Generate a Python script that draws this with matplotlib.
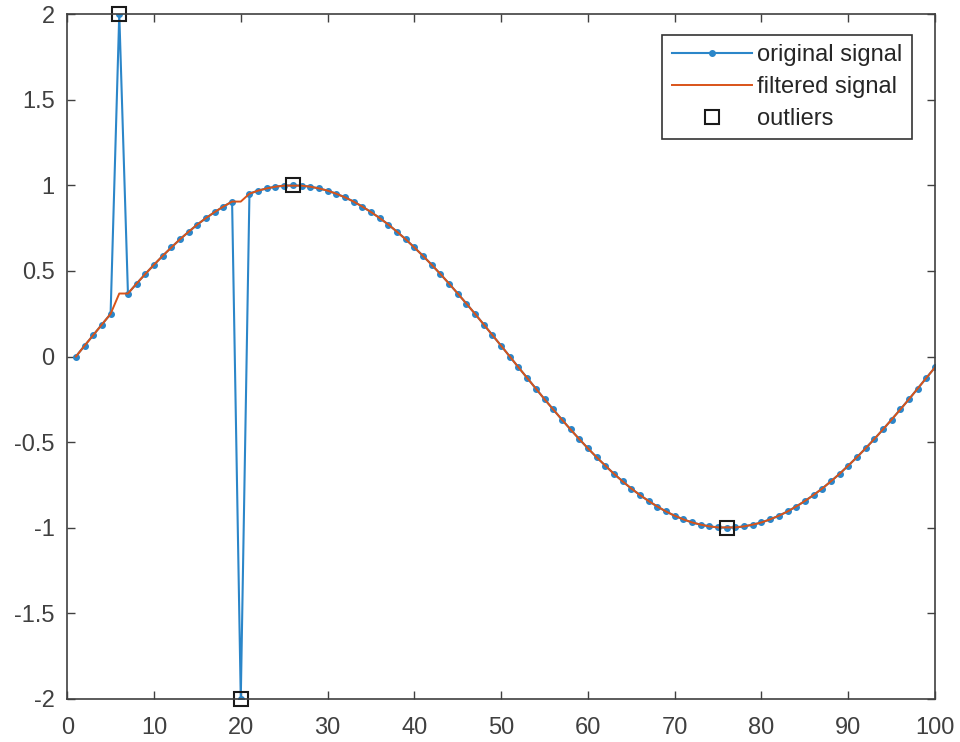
import numpy as np
import matplotlib.pyplot as plt

plt.rcParams['font.family'] = ['Liberation Sans', 'DejaVu Sans']

# sample index and the signal values
x = np.arange(1, 101)
original = [0.000, 0.063, 0.125, 0.187, 0.249, 2.000, 0.368, 0.426, 0.482, 0.536,
            0.588, 0.637, 0.685, 0.729, 0.771, 0.809, 0.844, 0.876, 0.905, -2.000,
            0.951, 0.969, 0.982, 0.992, 0.998, 1.000, 0.998, 0.992, 0.982, 0.969,
            0.951, 0.930, 0.905, 0.876, 0.844, 0.809, 0.771, 0.729, 0.685, 0.637,
            0.588, 0.536, 0.482, 0.426, 0.368, 0.309, 0.249, 0.187, 0.125, 0.063,
            0.000, -0.063, -0.125, -0.187, -0.249, -0.309, -0.368, -0.426, -0.482, -0.536,
            -0.588, -0.637, -0.685, -0.729, -0.771, -0.809, -0.844, -0.876, -0.905, -0.930,
            -0.951, -0.969, -0.982, -0.992, -0.998, -1.000, -0.998, -0.992, -0.982, -0.969,
            -0.951, -0.930, -0.905, -0.876, -0.844, -0.809, -0.771, -0.729, -0.685, -0.637,
            -0.588, -0.536, -0.482, -0.426, -0.368, -0.309, -0.249, -0.187, -0.125, -0.063]
filtered = [0.000, 0.063, 0.125, 0.187, 0.249, 0.368, 0.368, 0.426, 0.482, 0.536,
            0.588, 0.637, 0.685, 0.729, 0.771, 0.809, 0.844, 0.876, 0.905, 0.905,
            0.951, 0.969, 0.982, 0.992, 0.998, 0.998, 0.998, 0.992, 0.982, 0.969,
            0.951, 0.930, 0.905, 0.876, 0.844, 0.809, 0.771, 0.729, 0.685, 0.637,
            0.588, 0.536, 0.482, 0.426, 0.368, 0.309, 0.249, 0.187, 0.125, 0.063,
            0.000, -0.063, -0.125, -0.187, -0.249, -0.309, -0.368, -0.426, -0.482, -0.536,
            -0.588, -0.637, -0.685, -0.729, -0.771, -0.809, -0.844, -0.876, -0.905, -0.930,
            -0.951, -0.969, -0.982, -0.992, -0.998, -0.998, -0.998, -0.992, -0.982, -0.969,
            -0.951, -0.930, -0.905, -0.876, -0.844, -0.809, -0.771, -0.729, -0.685, -0.637,
            -0.588, -0.536, -0.482, -0.426, -0.368, -0.309, -0.249, -0.187, -0.125, -0.063]
outlier_x = [6, 20, 26, 76]
outlier_y = [2, -2, 1, -1]

fig = plt.figure(figsize=(9.6, 7.42), dpi=100)
ax = fig.add_axes([0.070, 0.058, 0.904, 0.923])

ax.plot(x, original, '.-', color='#2b86c9', lw=1.5, ms=8, label='original signal')
ax.plot(x, filtered, '-', color='#D95319', lw=1.4, label='filtered signal')
ax.plot(outlier_x, outlier_y, 's', mfc='none', mec='#1a1a1a', ms=10, mew=1.5,
        clip_on=False, label='outliers')

ax.set_xlim(0, 100)
ax.set_ylim(-2, 2)
ax.set_xticks(np.arange(0, 101, 10))
ax.set_yticks(np.arange(-2, 2.01, 0.5))
ax.set_yticklabels(['-2', '-1.5', '-1', '-0.5', '0', '0.5', '1', '1.5', '2'])

edge = '#404040'
for s in ax.spines.values():
    s.set_color(edge)
    s.set_linewidth(1.2)
ax.tick_params(direction='in', length=6, width=1.0, color=edge, labelcolor='#404040',
               labelsize=17, top=True, right=True)
ax.tick_params(axis='x', pad=13)
ax.tick_params(axis='y', pad=9)

leg = ax.legend(loc='upper right', bbox_to_anchor=(0.973, 0.97), fontsize=17,
                fancybox=False, framealpha=1, edgecolor='#333333', handlelength=3.4,
                handletextpad=0.2, borderpad=0.4, labelspacing=0.42, borderaxespad=0)
leg.get_frame().set_linewidth(1.2)
for t in leg.get_texts():
    t.set_color('#262626')

fig.savefig('out.png', dpi=100)
